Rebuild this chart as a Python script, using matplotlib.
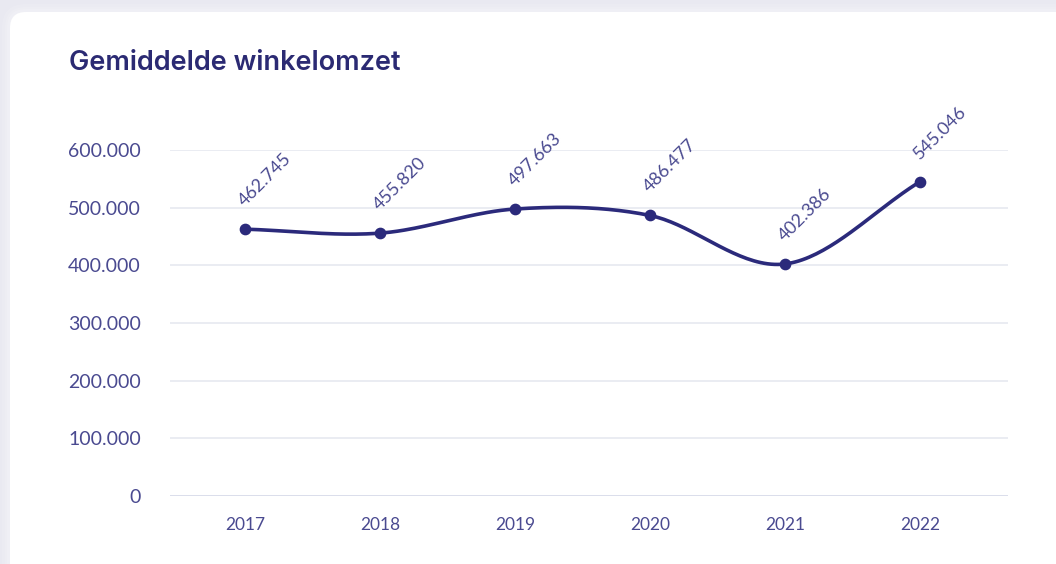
import numpy as np
import matplotlib
matplotlib.use("Agg")
import matplotlib.pyplot as plt
from matplotlib.patches import FancyBboxPatch

years = [2017, 2018, 2019, 2020, 2021, 2022]
values = [462745, 455820, 497663, 486477, 402386, 545046]
value_labels = ["462.745", "455.820", "497.663", "486.477", "402.386", "545.046"]
yticks = [0, 100000, 200000, 300000, 400000, 500000, 600000]
ytick_labels = ["0", "100.000", "200.000", "300.000", "400.000", "500.000", "600.000"]
title = "Gemiddelde winkelomzet"

LINE = "#2b2a7b"
TEXT = "#4a4a90"
W, H = 1056, 564

plt.rcParams['font.family'] = ['Lato', 'DejaVu Sans']
fig = plt.figure(figsize=(W / 100, H / 100), dpi=100)
fig.patch.set_facecolor("#e9e9f1")

# shadow layers + card
for i, (pad, a) in enumerate([(8, 0.25), (5, 0.35), (3, 0.5)]):
    sh = FancyBboxPatch((10 - pad, -40), W + 40, H - 12 + 40 + pad,
                        boxstyle="round,pad=0,rounding_size=%d" % (16 + pad),
                        transform=None, facecolor="#f2f2f7", edgecolor="none",
                        alpha=a, zorder=0)
    fig.patches.append(sh)
card = FancyBboxPatch((10, -40), W + 40, H - 12 + 40,
                      boxstyle="round,pad=0,rounding_size=16",
                      transform=None, facecolor="white", edgecolor="none", zorder=1)
fig.patches.append(card)

left, right, bottom, top = 170, 1008, 496, 150
ax = fig.add_axes([left / W, 1 - bottom / H, (right - left) / W, (bottom - top) / H])
ax.set_facecolor("none")
ax.set_zorder(2)

# smooth curve (Catmull-Rom through data points)
x = np.array(years, dtype=float)
y = np.array(values, dtype=float)
px = np.concatenate([[2 * x[0] - x[1]], x, [2 * x[-1] - x[-2]]])
py = np.concatenate([[2 * y[0] - y[1]], y, [2 * y[-1] - y[-2]]])
cx, cy = [], []
t = np.linspace(0, 1, 40)
def cr(a0, a1, a2, a3):
    return 0.5 * ((2 * a1) + (-a0 + a2) * t + (2 * a0 - 5 * a1 + 4 * a2 - a3) * t ** 2
                  + (-a0 + 3 * a1 - 3 * a2 + a3) * t ** 3)
for i in range(1, len(px) - 2):
    cx.append(cr(px[i - 1], px[i], px[i + 1], px[i + 2]))
    cy.append(cr(py[i - 1], py[i], py[i + 1], py[i + 2]))
cx = np.concatenate(cx)
cy = np.concatenate(cy)
ax.plot(cx, cy, color=LINE, lw=2.6, solid_capstyle="round", zorder=3)
ax.scatter(x, y, s=55, color=LINE, zorder=4)

for xi, yi, lab in zip(years, values, value_labels):
    ax.annotate(lab, (xi, yi), xytext=(0, 22), textcoords="offset pixels",
                rotation=45, rotation_mode="anchor", ha="left", va="baseline",
                fontsize=13, color=TEXT, zorder=5)

ax.set_xlim(2017 - 75 / 135, 2022 + 88 / 135)
ax.set_ylim(0, 600000)
ax.set_yticks(yticks)
ax.set_yticklabels(ytick_labels, fontsize=14)
ax.set_xticks(years)
ax.set_xticklabels([str(v) for v in years], fontsize=12.5)
ax.tick_params(axis="both", length=0, labelcolor=TEXT)
ax.tick_params(axis="y", pad=21)
ax.tick_params(axis="x", pad=15)
ax.grid(axis="y", color="#e6e9f0", lw=1.2)
ax.set_axisbelow(True)
for s in ax.spines.values():
    s.set_visible(False)
ax.axhline(0, color="#d9dcea", lw=1.2, zorder=1)

fig.text(69 / W, 1 - 70 / H, title, fontsize=19.5, fontweight="semibold",
         family=['Inter', 'DejaVu Sans'],
         color="#2b2a73", ha="left", va="baseline", zorder=5)

fig.savefig("out.png", dpi=100, facecolor=fig.get_facecolor())
